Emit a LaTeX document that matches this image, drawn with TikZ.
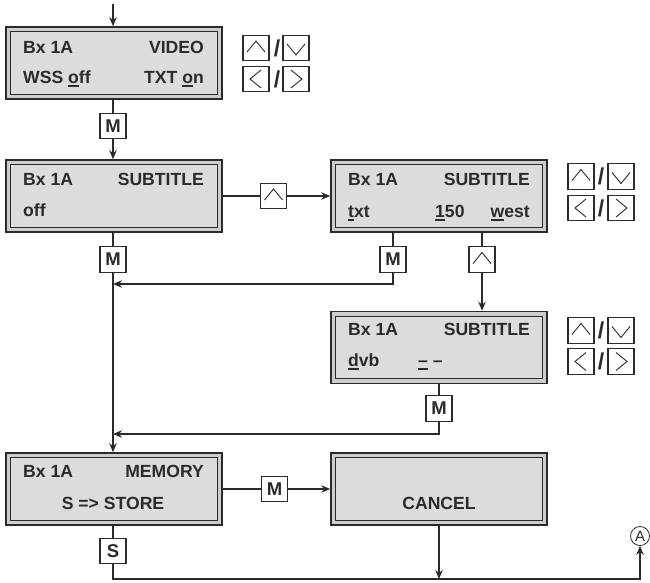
\documentclass[tikz,border=0pt]{standalone}
\usepackage{fontspec}
\setmainfont{Liberation Sans}
\usetikzlibrary{arrows.meta,calc}
\definecolor{ink}{HTML}{2B2B2B}
\definecolor{ring}{HTML}{CDCDCD}
\definecolor{lcd}{HTML}{DCDCDC}
\newsavebox\ulbox
\newcommand\myul[1]{\sbox\ulbox{#1}\rlap{\rule[-3.5pt]{\wd\ulbox}{1.8pt}}\usebox\ulbox}
\newcommand\lcdbox[2]{\node[disp] (#1) at (#2) {};
  \draw[lcdin] ([shift={(5.5,5.5)}]#1.north west) rectangle ([shift={(-5.5,-5.5)}]#1.south east);}
\newcommand\chevU[1]{\draw[chev] ([shift={(-9,4)}]#1.center) -- ([shift={(0,-7)}]#1.center) -- ([shift={(9,4)}]#1.center);}
\newcommand\chevD[1]{\draw[chev] ([shift={(-9,-4)}]#1.center) -- ([shift={(0,7)}]#1.center) -- ([shift={(9,-4)}]#1.center);}
\newcommand\chevL[1]{\draw[chev] ([shift={(5,-9)}]#1.center) -- ([shift={(-6,0)}]#1.center) -- ([shift={(5,9)}]#1.center);}
\newcommand\chevR[1]{\draw[chev] ([shift={(-5,-9)}]#1.center) -- ([shift={(6,0)}]#1.center) -- ([shift={(-5,9)}]#1.center);}
\begin{document}
\begin{tikzpicture}[x=1pt,y=-1pt,
 disp/.style={draw=ink,line width=1.6pt,fill=ring,minimum width=216pt,minimum height=72pt,inner sep=0pt},
 lcdin/.style={draw=ink,line width=1.2pt,fill=lcd},
 txt/.style={inner sep=0pt,text=ink,font=\fontsize{17.6}{20}\selectfont\bfseries},
 key/.style={draw=ink,fill=white,line width=1.1pt,minimum width=26pt,minimum height=25.5pt,inner sep=0pt,text=ink,font=\fontsize{18.5}{20}\selectfont\bfseries},
 conn/.style={draw=ink,line width=1.2pt},
 arr/.style={conn,-{Stealth[length=9pt,width=7.5pt]}},
 chev/.style={draw=ink,line width=0.9pt,line join=miter},
 slash/.style={inner sep=0pt,text=ink,font=\fontsize{23}{24}\selectfont\bfseries}]

\useasboundingbox (0,0) rectangle (650,582);

% displays
\lcdbox{d1}{114,63}
\lcdbox{d2}{114,196}
\lcdbox{d3}{439,196}
\lcdbox{d4}{439,347.5}
\lcdbox{d5}{114,489}
\lcdbox{d6}{439,489}

% display texts
\node[txt,anchor=base west] (t1a) at (23,53) {Bx 1A};
\node[txt,anchor=base east] (t1b) at (204,53) {VIDEO};
\node[txt,anchor=base west] (t1c) at (23,83) {WSS \myul{o}ff};
\node[txt,anchor=base east] (t1d) at (204,83) {TXT \myul{o}n};

\node[txt,anchor=base west] (t2a) at (23,185) {Bx 1A};
\node[txt,anchor=base east] (t2b) at (204,185) {SUBTITLE};
\node[txt,anchor=base west] (t2c) at (23,216) {off};

\node[txt,anchor=base west] (t3a) at (348,185) {Bx 1A};
\node[txt,anchor=base east] (t3b) at (530,185) {SUBTITLE};
\node[txt,anchor=base west] (t3c) at (348,217) {\myul{t}xt};
\node[txt,anchor=base west] (t3d) at (435,217) {\myul{1}50};
\node[txt,anchor=base east] (t3e) at (530,217) {\myul{w}est};

\node[txt,anchor=base west] (t4a) at (348,335) {Bx 1A};
\node[txt,anchor=base east] (t4b) at (530,335) {SUBTITLE};
\node[txt,anchor=base west] (t4c) at (348,366) {\myul{d}vb};
\node[txt,anchor=base west] (t4d) at (418,366) {\myul{–}\hspace{5pt}–};

\node[txt,anchor=base west] (t5a) at (23,477) {Bx 1A};
\node[txt,anchor=base east] (t5b) at (204,477) {MEMORY};
\node[txt,anchor=base] (t5c) at (113,509) {S => STORE};

\node[txt,anchor=base] (t6a) at (439,509) {CANCEL};

% key groups
\node[key] (ga1) at (256,48) {}; \chevU{ga1}
\node[key] (ga2) at (296,48) {}; \chevD{ga2}
\node[key] (ga3) at (256,79) {}; \chevL{ga3}
\node[key] (ga4) at (296,79) {}; \chevR{ga4}
\node[slash] (gas1) at (277,48) {/};
\node[slash] (gas2) at (277,79) {/};

\node[key] (gb1) at (581,176.5) {}; \chevU{gb1}
\node[key] (gb2) at (621,176.5) {}; \chevD{gb2}
\node[key] (gb3) at (581,208) {}; \chevL{gb3}
\node[key] (gb4) at (621,208) {}; \chevR{gb4}
\node[slash] (gbs1) at (601,176.5) {/};
\node[slash] (gbs2) at (601,208) {/};

\node[key] (gc1) at (581,330.5) {}; \chevU{gc1}
\node[key] (gc2) at (621,330.5) {}; \chevD{gc2}
\node[key] (gc3) at (581,361.5) {}; \chevL{gc3}
\node[key] (gc4) at (621,361.5) {}; \chevR{gc4}
\node[slash] (gcs1) at (601,330.5) {/};
\node[slash] (gcs2) at (601,361.5) {/};

% flow keys
\node[key] (m1) at (113,126) {M};
\node[key] (u1) at (273.5,196) {}; \chevU{u1}
\node[key] (m2) at (113,259.5) {M};
\node[key] (m3) at (393,259.5) {M};
\node[key] (u2) at (482,259.5) {}; \chevU{u2}
\node[key] (m4) at (439,408.5) {M};
\node[key] (m5) at (274.5,489) {M};
\node[key] (s1) at (113,551) {S};
\node[circle,draw=ink,line width=0.8pt,minimum size=19pt,inner sep=0pt,text=ink,font=\fontsize{15}{16}\selectfont] (ca) at (640,536) {A};

% connectors
\coordinate (top) at (113,4);
\coordinate (j1) at (113,284);
\coordinate (j2) at (113,434);
\coordinate (b1) at (640,579);

\draw[arr] (top) -- (top |- d1.north);
\draw[conn] (m1 |- d1.south) -- (m1.north);
\draw[arr] (m1.south) -- (m1 |- d2.north);

\draw[conn] (d2.east |- u1) -- (u1.west);
\draw[arr] (u1.east) -- (u1 -| d3.west);

\draw[conn] (m2 |- d2.south) -- (m2.north);
\draw[arr] (m2.south) -- (m2 |- d5.north);

\draw[conn] (m3 |- d3.south) -- (m3.north);
\draw[arr] (m3.south) |- (j1);

\draw[conn] (u2 |- d3.south) -- (u2.north);
\draw[arr] (u2.south) -- (u2 |- d4.north);

\draw[conn] (d4.south) -- (m4.north);
\draw[arr] (m4.south) |- (j2);

\draw[conn] (d5.east) -- (m5.west);
\draw[arr] (m5.east) -- (d6.west);

\draw[conn] (s1 |- d5.south) -- (s1.north);
\draw[arr] (s1.south) |- (b1) -- (ca.south);
\draw[arr] (d6.south) -- (d6.south |- b1);
\end{tikzpicture}
\end{document}
